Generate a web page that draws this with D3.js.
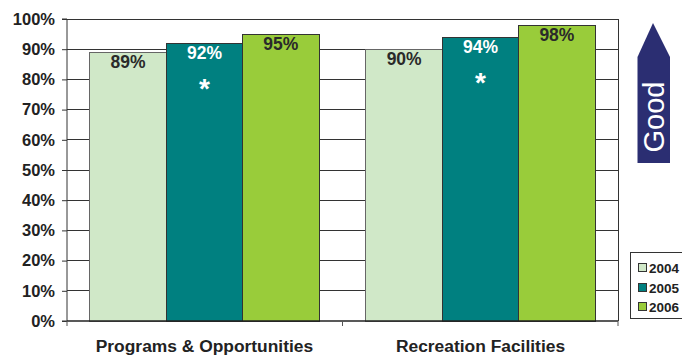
<!DOCTYPE html>
<html><head><meta charset="utf-8">
<script src="https://cdn.jsdelivr.net/npm/d3@7"></script>
<style>body{margin:0;background:#fff}svg{display:block;font-family:"Liberation Sans",Arial,sans-serif}</style>
</head><body><svg id="c" width="682" height="356"></svg>
<script>
const categories = ["Programs & Opportunities", "Recreation Facilities"];
const years = ["2004", "2005", "2006"];
const values2004 = [89, 90];
const values2005 = [92, 94];
const values2006 = [95, 98];
const significant2005 = [true, true];
const yTicks = [0,10,20,30,40,50,60,70,80,90,100];
const colors = ["#d0e8c8", "#008080", "#99cc3a"];
const labelColors = ["#2a2a2a", "#ffffff", "#2a2a2a"];

const series = [values2004, values2005, values2006];
const svg = d3.select("#c");
const m = {l:67, r:618, t:19, b:321};

const x0 = d3.scaleBand().domain(categories).range([m.l, m.r]).paddingInner(0.17).paddingOuter(0.083);
const x1 = d3.scaleBand().domain(years).range([0, x0.bandwidth()]);
const y = d3.scaleLinear().domain([0,100]).range([m.b, m.t]);

// gridlines
svg.append("g").selectAll("line").data(yTicks.filter(t=>t>0)).join("line")
  .attr("x1", m.l).attr("x2", m.r).attr("y1", d=>y(d)).attr("y2", d=>y(d))
  .attr("stroke", "#333").attr("stroke-width", 1).attr("shape-rendering","crispEdges");
// right border
svg.append("line").attr("x1", m.r).attr("x2", m.r).attr("y1", m.t).attr("y2", m.b)
  .attr("stroke", "#333").attr("shape-rendering","crispEdges");

// bars
const data = [];
categories.forEach((c,i)=>years.forEach((yr,j)=>data.push({c, yr, j, v: series[j][i], i})));
const bars = svg.append("g");
bars.selectAll("rect").data(data).join("rect")
  .attr("x", d=>x0(d.c)+x1(d.yr)).attr("width", x1.bandwidth())
  .attr("y", d=>y(d.v)).attr("height", d=>y(0)-y(d.v))
  .attr("fill", d=>colors[d.j]).attr("stroke", d=>d.j===0?"#666":"#333").attr("stroke-width",1)
  .attr("shape-rendering","crispEdges");

bars.selectAll("text.v").data(data).join("text").attr("class","v")
  .attr("x", d=>x0(d.c)+x1(d.yr)+x1.bandwidth()/2).attr("y", d=>y(d.v)+16)
  .attr("text-anchor","middle").attr("font-size",17.5).attr("font-weight","bold")
  .attr("fill", d=>labelColors[d.j]).text(d=>d.v+"%");

bars.selectAll("text.s").data(data.filter(d=>d.j===1 && significant2005[d.i])).join("text").attr("class","s")
  .attr("x", d=>x0(d.c)+x1(d.yr)+x1.bandwidth()/2).attr("y", d=>y(d.v)+55)
  .attr("text-anchor","middle").attr("font-size",28).attr("font-weight","bold")
  .attr("fill","#fff").text("*");

// y axis
const ya = d3.axisLeft(y).tickValues(yTicks).tickFormat(d=>d+"%").tickSize(5).tickPadding(7);
const gy = svg.append("g").attr("transform",`translate(${m.l},0)`).call(ya);
gy.select(".domain").attr("stroke","#333").attr("d",`M-5,${m.b}H0V${m.t}H-5`);
gy.selectAll(".tick line").attr("stroke","#333");
gy.selectAll(".tick text").attr("font-size",16.5).attr("font-weight","bold").attr("fill","#222")
  .attr("font-family","'Liberation Sans',Arial,sans-serif");

// x axis
const xa = svg.append("g");
xa.append("line").attr("x1",m.l).attr("x2",m.r).attr("y1",m.b).attr("y2",m.b).attr("stroke","#222").attr("stroke-width",1.5);
const bounds = [m.l, (x0(categories[0])+x0.bandwidth()+x0(categories[1]))/2, m.r];
xa.selectAll("line.t").data(bounds).join("line").attr("class","t")
  .attr("x1",d=>d).attr("x2",d=>d).attr("y1",m.b).attr("y2",m.b+5).attr("stroke","#555");
xa.selectAll("text").data(categories).join("text")
  .attr("x", d=>x0(d)+x0.bandwidth()/2).attr("y", 352)
  .attr("text-anchor","middle").attr("font-size",17.4).attr("font-weight","bold").attr("fill","#222").text(d=>d);

// Good arrow
const ag = svg.append("g");
ag.append("path").attr("d","M653,23 L670,57 L670,163 L637.5,163 L637.5,57 Z").attr("fill","#2b2e72");
ag.append("text").attr("transform","translate(663.5,117) rotate(-90)").attr("text-anchor","middle")
  .attr("font-size",29).attr("fill","#fff").text("Good");

// legend
const lg = svg.append("g");
lg.append("rect").attr("x",630.5).attr("y",252.5).attr("width",60).attr("height",66)
  .attr("fill","#fff").attr("stroke","#333");
const ly = [268, 288, 307];
years.forEach((yr,j)=>{
  lg.append("rect").attr("x",638.5).attr("y",ly[j]-4.5).attr("width",8).attr("height",8)
    .attr("fill",colors[j]).attr("stroke","#333");
  lg.append("text").attr("x",649).attr("y",ly[j]+5).attr("font-size",13.5).attr("font-weight","bold")
    .attr("fill","#222").text(yr);
});
</script></body></html>
